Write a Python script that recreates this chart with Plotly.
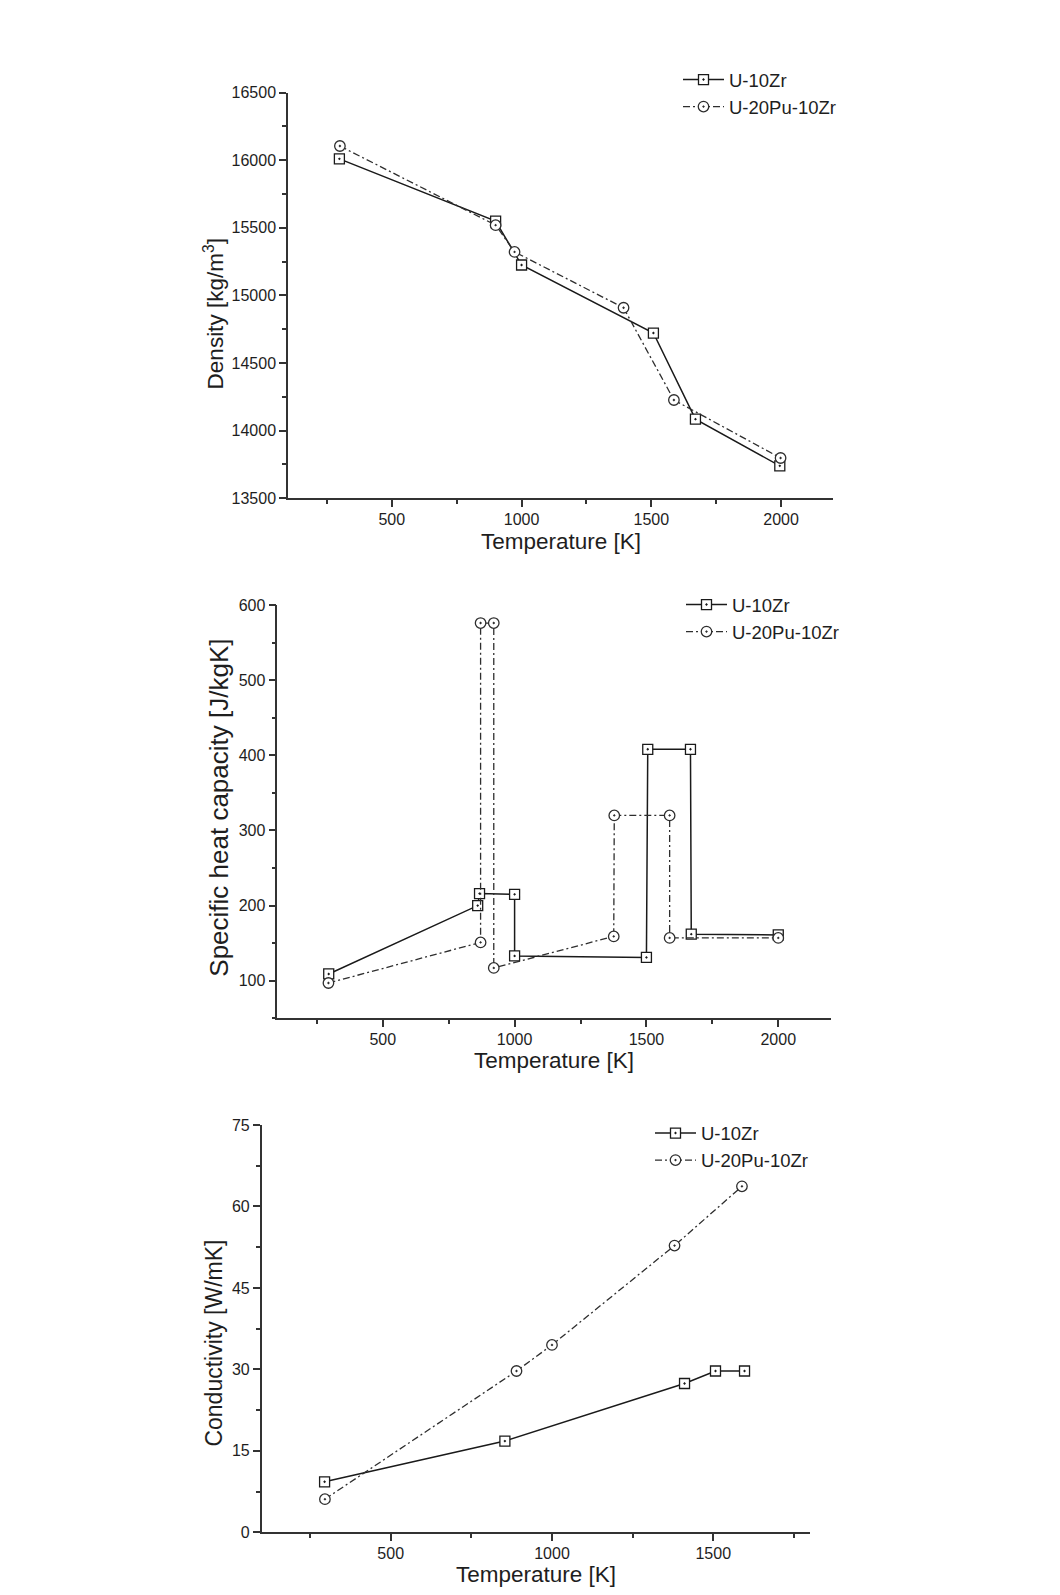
import plotly.graph_objects as go

# ---------------- data ----------------
series_names = ["U-10Zr", "U-20Pu-10Zr"]

# Density [kg/m3] vs Temperature [K]
dens_T_u10 = [298, 900, 1000, 1508, 1670, 1995]
dens_u10 = [16010, 15550, 15225, 14722, 14085, 13740]
dens_T_upz = [300, 900, 973, 1393, 1587, 1998]
dens_upz = [16105, 15520, 15322, 14909, 14227, 13798]

# Specific heat capacity [J/kgK]
cp_T_u10 = [295, 860, 867, 1000, 1000, 1500, 1505, 1667, 1670, 2000]
cp_u10 = [109, 200, 216, 215, 133, 131, 408, 408, 162, 161]
cp_T_upz = [294, 871, 871, 921, 921, 1376, 1378, 1588, 1588, 2000]
cp_upz = [97, 151, 576, 576, 117, 159, 320, 320, 157, 157]

# Conductivity [W/mK]
k_T_u10 = [295, 854, 1411, 1507, 1597]
k_u10 = [9.3, 16.8, 27.4, 29.7, 29.7]
k_T_upz = [296, 890, 1000, 1380, 1589]
k_upz = [6.1, 29.7, 34.5, 52.8, 63.7]

# ---------------- style ----------------
PAGE_W, PAGE_H = 1060, 1595
BODY = 8                      # default page margin of the html body
W, H = PAGE_W - 2 * BODY, PAGE_H - 2 * BODY
FONT = "Liberation Sans, Arial, sans-serif"
TXT = "#1e1e1e"
AX = "#333333"
LC1 = "#1a1a1a"
LC2 = "#2e2e2e"
DASHDOT = "7px,3px,2px,3px"


def px(x):
    return (x - BODY) / W


def py(y):
    return 1 - (y - BODY) / H


fig = go.Figure()

panels = [
    (dens_T_u10, dens_u10, dens_T_upz, dens_upz, "x", "y", "legend"),
    (cp_T_u10, cp_u10, cp_T_upz, cp_upz, "x2", "y2", "legend2"),
    (k_T_u10, k_u10, k_T_upz, k_upz, "x3", "y3", "legend3"),
]

for tx1, v1, tx2, v2, xa, ya, lg in panels:
    fig.add_trace(go.Scatter(
        x=tx1, y=v1, name=series_names[0], mode="lines+markers",
        xaxis=xa, yaxis=ya, legend=lg,
        line=dict(color=LC1, width=1.5),
        marker=dict(symbol="square-dot", size=10, color="white",
                    line=dict(color=LC1, width=1.3)),
    ))
    fig.add_trace(go.Scatter(
        x=tx2, y=v2, name=series_names[1], mode="lines+markers",
        xaxis=xa, yaxis=ya, legend=lg,
        line=dict(color=LC2, width=1.3, dash=DASHDOT),
        marker=dict(symbol="circle-dot", size=10.5, color="white",
                    line=dict(color=LC2, width=1.3)),
    ))


def axis_common(rng, dtick, mdtick):
    return dict(
        range=rng, dtick=dtick, tick0=0, showline=True, linecolor=AX,
        linewidth=1.5, ticks="outside", ticklen=7, tickwidth=1.5,
        tickcolor=AX, showgrid=False, zeroline=False, tickformat="d",
        tickfont=dict(family=FONT, size=16, color=TXT),
        minor=dict(dtick=mdtick, tick0=0, ticks="outside", ticklen=4,
                   tickwidth=1.5, tickcolor=AX, showgrid=False),
        fixedrange=True, automargin=False,
    )


# plot area boxes in page pixels: (left, right, top, bottom)
boxes = [(288, 833, 92.6, 498.3), (277.3, 831, 605, 1018.3), (261.7, 810, 1125, 1532.3)]

x_ranges = [[100, 2200], [100, 2200], [100, 1800]]
y_ranges = [[13500, 16500], [50, 600], [0, 75]]
y_dticks = [(500, 250), (100, 50), (15, 7.5)]

layout_axes = {}
for i, (bx, xr, yr, yd) in enumerate(zip(boxes, x_ranges, y_ranges, y_dticks)):
    l, r, t, b = bx
    sfx = "" if i == 0 else str(i + 1)
    xa = axis_common(xr, 500, 250)
    xa.update(domain=[px(l), px(r)], anchor="y" + sfx, ticklabelstandoff=-1)
    ya = axis_common(yr, yd[0], yd[1])
    ya.update(domain=[py(b), py(t)], anchor="x" + sfx)
    if i == 2:
        ya["tickformat"] = ""
    layout_axes["xaxis" + sfx] = xa
    layout_axes["yaxis" + sfx] = ya

x_titles = ["Temperature [K]", "Temperature [K]", "Temperature [K]"]
y_titles = ["Density [kg/m<sup>3</sup>]", "Specific heat capacity [J/kgK]", "Conductivity [W/mK]"]
x_title_pos = [((288 + 833) / 2, 541), ((277.3 + 831) / 2, 1060), ((261.7 + 810) / 2, 1574)]
y_title_pos = [(213.6, 313.8), (218.7, 808), (213.6, 1343)]
y_title_size = [22.5, 26, 23]

annotations = []
for txt, (ax_, ay_) in zip(x_titles, x_title_pos):
    annotations.append(dict(text=txt, x=px(ax_), y=py(ay_), xref="paper", yref="paper",
                            xanchor="center", yanchor="middle", showarrow=False,
                            font=dict(family=FONT, size=22.5, color=TXT)))
for txt, (ax_, ay_), fs in zip(y_titles, y_title_pos, y_title_size):
    annotations.append(dict(text=txt, x=px(ax_), y=py(ay_), xref="paper", yref="paper",
                            xanchor="center", yanchor="middle", showarrow=False, textangle=-90,
                            font=dict(family=FONT, size=fs, color=TXT)))

legend_pos = [(678, 61), (681, 586), (650, 1114.5)]
legends = {}
for i, (lx, ly) in enumerate(legend_pos):
    key = "legend" if i == 0 else "legend" + str(i + 1)
    legends[key] = dict(x=px(lx), y=py(ly), xanchor="left", yanchor="top",
                        bgcolor="rgba(0,0,0,0)", borderwidth=0, itemwidth=41,
                        font=dict(family=FONT, size=18.5, color=TXT),
                        tracegroupgap=0)

fig.update_layout(
    template="none",
    width=W, height=H,
    autosize=False,
    margin=dict(l=0, r=0, t=0, b=0, pad=0, autoexpand=False),
    paper_bgcolor="white", plot_bgcolor="white",
    showlegend=True,
    annotations=annotations,
    font=dict(family=FONT, color=TXT),
    **layout_axes,
    **legends,
)

fig.write_html("out.html", config={"displayModeBar": False, "responsive": False})
